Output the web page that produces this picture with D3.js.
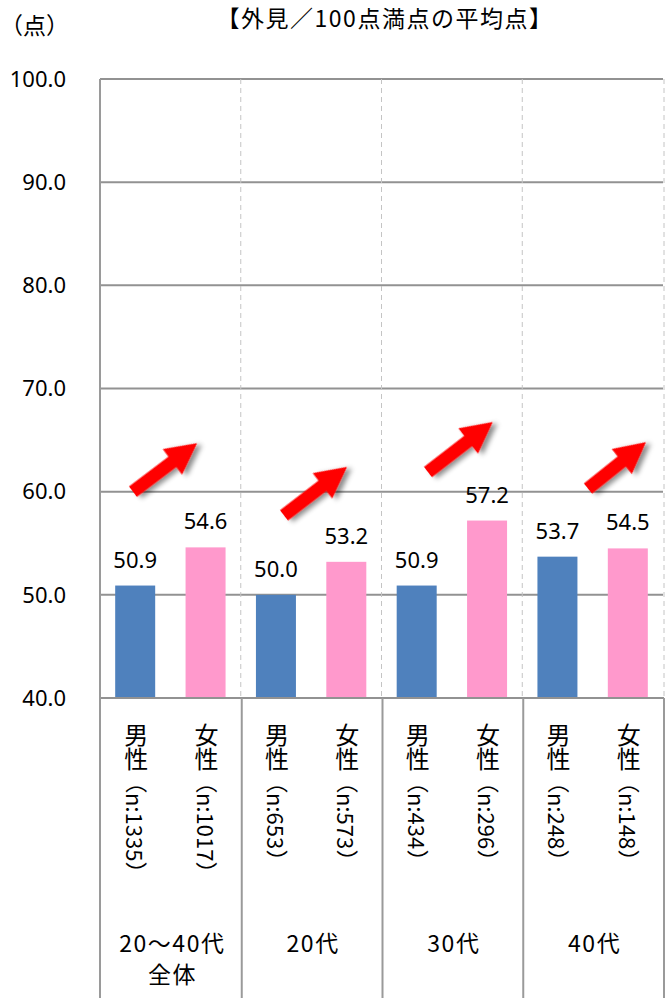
<!DOCTYPE html>
<html><head><meta charset="utf-8">
<script src="https://cdn.jsdelivr.net/npm/d3@7"></script>
<style>body{margin:0;background:#fff}</style>
</head><body><svg id="c" width="669" height="998"></svg>
<script>
const groups = [["20〜40代","全体"],["20代"],["30代"],["40代"]];
const genders = ["男性","女性"];
const nLabels = [["（n:1335）","（n:1017）"],["（n:653）","（n:573）"],["（n:434）","（n:296）"],["（n:248）","（n:148）"]];
const maleValues = [50.9,50.0,50.9,53.7];
const femaleValues = [54.6,53.2,57.2,54.5];
const yTicks = [40,50,60,70,80,90,100];
const title = "【外見／100点満点の平均点】";
const unitLabel = "（点）";
const colors = ["#4f81bd","#ff99cc"];
// arrow annotations (position within group, value on y axis)
const arrowTailFrac = [0.234,0.307,0.33,0.467];
const arrowTipFrac = [0.69,0.755,0.79,0.879];
const arrowTailValue = [60.0,57.7,61.9,60.3];
const arrowTipValue = [64.7,62.4,66.75,64.8];

const W=669,H=998, L=100, R=663, T=79, B=698;
const svg=d3.select("#c");
const cjk="'Noto Sans CJK JP','Noto Sans',sans-serif";
const num="'Noto Sans','Noto Sans CJK JP',sans-serif";

const bars=[];
groups.forEach((g,i)=>{bars.push({g:i,s:0,v:maleValues[i]});bars.push({g:i,s:1,v:femaleValues[i]});});
const x=d3.scaleBand().domain(d3.range(bars.length)).range([L,R]).paddingInner(0.4316).paddingOuter(0.2158);
const gx=d3.scaleBand().domain(d3.range(groups.length)).range([L,R]);
const y=d3.scaleLinear().domain([40,100]).range([B,T]);

const defs=svg.append("defs");
const f=defs.append("filter").attr("id","sh").attr("x","-50%").attr("y","-50%").attr("width","200%").attr("height","200%");
f.append("feDropShadow").attr("dx",3).attr("dy",4).attr("stdDeviation",2.5).attr("flood-color","#000").attr("flood-opacity",0.45);

// gridlines
svg.append("g").selectAll("line").data(yTicks.filter(t=>t>40)).join("line")
  .attr("x1",L).attr("x2",R).attr("y1",d=>y(d)).attr("y2",d=>y(d))
  .attr("stroke","#929292").attr("stroke-width",2);
// dashed separators
svg.append("g").selectAll("line").data(d3.range(1,groups.length+1)).join("line")
  .attr("x1",d=>d<groups.length?gx(d):R+1).attr("x2",d=>d<groups.length?gx(d):R+1).attr("y1",T).attr("y2",B)
  .attr("stroke","#c4c4c4").attr("stroke-width",1).attr("stroke-dasharray","5,4");

// bars
svg.append("g").selectAll("rect").data(bars).join("rect")
  .attr("x",(d,i)=>x(i)).attr("width",x.bandwidth())
  .attr("y",d=>y(d.v)).attr("height",d=>y(40)-y(d.v))
  .attr("fill",d=>colors[d.s]);

// value labels
svg.append("g").selectAll("text").data(bars).join("text")
  .attr("x",(d,i)=>x(i)+x.bandwidth()/2).attr("y",d=>y(d.v)-18)
  .attr("text-anchor","middle").attr("font-family",num).attr("font-size",22).attr("fill","#000")
  .text(d=>d3.format(".1f")(d.v));

// y tick labels
svg.append("g").selectAll("text").data(yTicks).join("text")
  .attr("x",66).attr("y",d=>y(d)).attr("dy","0.35em").attr("text-anchor","end")
  .attr("font-family",num).attr("font-size",22).attr("fill","#000")
  .text(d=>d3.format(".1f")(d));

// table lines
svg.append("line").attr("x1",L).attr("x2",R+1).attr("y1",B).attr("y2",B).attr("stroke","#929292").attr("stroke-width",2);
svg.append("g").selectAll("line").data(d3.range(groups.length+1)).join("line")
  .attr("x1",d=>d<groups.length?gx(d)+(d===0?0:1):R+1).attr("x2",d=>d<groups.length?gx(d)+(d===0?0:1):R+1)
  .attr("y1",d=>d===0?T:B).attr("y2",H)
  .attr("stroke","#9a9a9a").attr("stroke-width",2);

// vertical category labels (vertical writing mode: CJK upright, latin rotated)
bars.forEach((d,i)=>{
  const cx=x(i)+x.bandwidth()/2+1;
  const t=svg.append("text").attr("x",cx).attr("y",B+25)
    .style("writing-mode","vertical-rl").style("text-orientation","mixed")
    .attr("font-family",cjk).attr("fill","#000");
  t.append("tspan").attr("font-size",24).text(genders[d.s]);
  t.append("tspan").attr("font-size",22).text(nLabels[d.g][d.s]);
});

// group labels
groups.forEach((lines,i)=>{
  lines.forEach((t,k)=>{
    svg.append("text").attr("x",gx(i)+gx.bandwidth()/2+2).attr("y",944+k*31).attr("dy","0.36em")
      .attr("text-anchor","middle").attr("font-family",cjk).attr("font-size",23).attr("letter-spacing",1.5).text(t);
  });
});

// title & unit
svg.append("text").attr("x",385).attr("y",27).attr("text-anchor","middle")
  .attr("font-family",cjk).attr("font-size",23).attr("letter-spacing",1.5).text(title);
svg.append("text").attr("x",0).attr("y",26).attr("dy","0.36em")
  .attr("font-family",cjk).attr("font-size",23).text(unitLabel);

// arrows
const aw=6.5,ah=31,aH=16;
arrowTailFrac.forEach((tf,i)=>{
  const x1=gx(i)+gx.bandwidth()*tf, y1=y(arrowTailValue[i]);
  const x2=gx(i)+gx.bandwidth()*arrowTipFrac[i], y2=y(arrowTipValue[i]);
  const len=Math.hypot(x2-x1,y2-y1), ang=Math.atan2(y2-y1,x2-x1)*180/Math.PI;
  const pts=[[0,-aw],[len-ah,-aw],[len-ah,-aH],[len,0],[len-ah,aH],[len-ah,aw],[0,aw]];
  svg.append("path").attr("transform",`translate(${x1},${y1}) rotate(${ang})`)
    .attr("d","M"+pts.map(p=>p.join(",")).join("L")+"Z")
    .attr("fill","#ff0000").attr("filter","url(#sh)");
});
</script></body></html>
